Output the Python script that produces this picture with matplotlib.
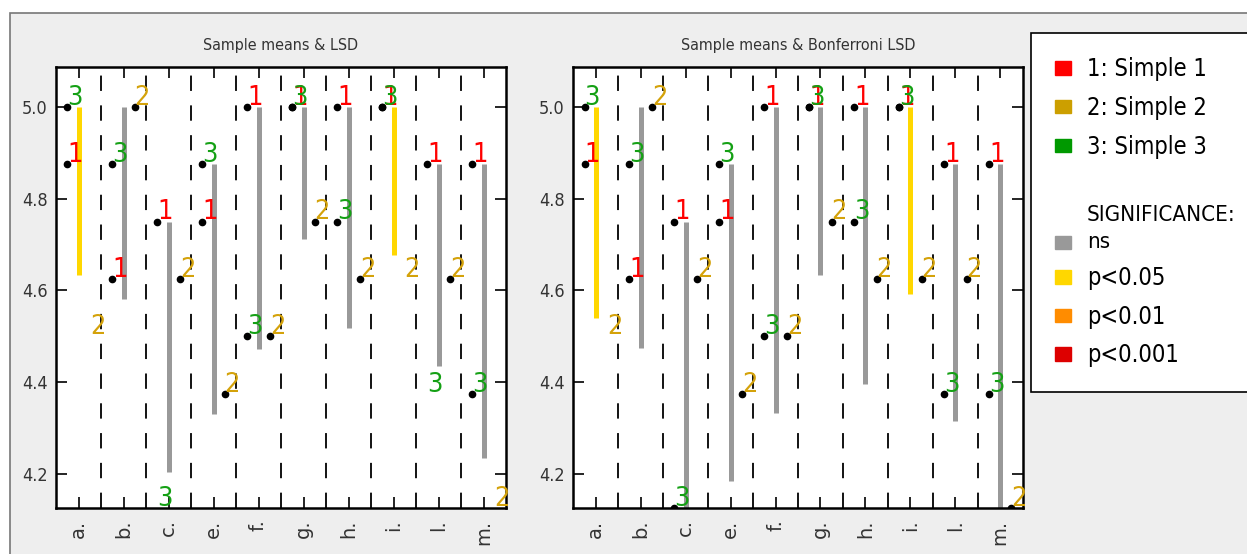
import matplotlib
matplotlib.use('Agg')
import matplotlib.pyplot as plt
from matplotlib import font_manager
from matplotlib.patches import Patch, Rectangle
from matplotlib.legend_handler import HandlerPatch

# sample means per product (samples 1 and 3 go left of the tick, 2 goes right)
categories = ['a.', 'b.', 'c.', 'e.', 'f.', 'g.', 'h.', 'i.', 'l.', 'm.']
mean_1 = [4.875, 4.625, 4.75, 4.75, 5.0, 5.0, 5.0, 5.0, 4.875, 4.875]
mean_2 = [4.5, 5.0, 4.625, 4.375, 4.5, 4.75, 4.625, 4.625, 4.625, 4.125]
mean_3 = [5.0, 4.875, 4.125, 4.875, 4.5, 5.0, 4.75, 5.0, 4.375, 4.375]

# lower end of the LSD bar (bar starts at the highest mean)
lsd_low = [4.634, 4.581, 4.205, 4.330, 4.473, 4.711, 4.518, 4.678, 4.435, 4.234]
bonf_low = [4.540, 4.475, 4.066, 4.185, 4.332, 4.633, 4.395, 4.591, 4.315, 4.070]
lsd_sig = ['p<0.05', 'ns', 'ns', 'ns', 'ns', 'ns', 'ns', 'p<0.05', 'ns', 'ns']
bonf_sig = ['p<0.05', 'ns', 'ns', 'ns', 'ns', 'ns', 'ns', 'p<0.05', 'ns', 'ns']

sample_names = ['1: Simple 1', '2: Simple 2', '3: Simple 3']
sample_colors = ['#ff0000', '#d4a20a', '#14a014']
legend_colors = ['#ff0000', '#cc9f00', '#009900']
sig_levels = ['ns', 'p<0.05', 'p<0.01', 'p<0.001']
sig_colors = {'ns': '#999999', 'p<0.05': '#ffd700', 'p<0.01': '#ff8c00', 'p<0.001': '#dd0000'}

names = {f.name for f in font_manager.fontManager.ttflist}
if 'Liberation Sans Narrow' in names:
    narrow = dict(family='Liberation Sans Narrow')
else:
    narrow = dict(family='DejaVu Sans', stretch='condensed')

W, H = 1247, 554
fig = plt.figure(figsize=(W / 100, H / 100), dpi=100, facecolor='white')
fig.add_artist(Rectangle((10 / W, -0.1), 1.0, 1.1 - 13 / H, transform=fig.transFigure,
                         facecolor='#eeeeee', edgecolor='#777777', lw=1.2, zorder=-10))


def draw_panel(ax, low, sig, title):
    means = [mean_1, mean_2, mean_3]
    offsets = [-0.25, 0.25, -0.25]
    for i in range(len(categories)):
        top = max(m[i] for m in means)
        ax.vlines(i, low[i], top, colors=sig_colors[sig[i]], lw=3.6, zorder=2)
        for s in range(3):
            x = i + offsets[s]
            y = means[s][i]
            if y >= low[i]:
                ax.plot(x, y, 'o', color='black', ms=4.5, zorder=4)
            ax.annotate(str(s + 1), (x, y), xytext=(0, 1.5), textcoords='offset points',
                        ha='left', va='baseline', color=sample_colors[s],
                        fontsize=19.5, zorder=5, **narrow)
    for i in range(len(categories) - 1):
        ax.axvline(i + 0.5, color='black', lw=1.3, linestyle=(0, (8.5, 8)), zorder=1)
    ax.set_xlim(-0.5, len(categories) - 0.5)
    ax.set_ylim(4.125, 5.0875)
    ax.set_xticks(range(len(categories)))
    ax.set_xticklabels(categories, rotation=90, fontsize=14)
    ax.set_yticks([4.2, 4.4, 4.6, 4.8, 5.0])
    ax.set_yticklabels(['4.2', '4.4', '4.6', '4.8', '5.0'], fontsize=13, **narrow)
    ax.tick_params(direction='in', top=True, right=True, length=8, width=1.2, colors='black',
                   labelcolor='#333333')
    ax.tick_params(axis='x', pad=8)
    ax.tick_params(axis='y', pad=6)
    for sp in ax.spines.values():
        sp.set_linewidth(1.8)
    ax.set_title(title, fontsize=11.5, pad=12, color='#333333', **narrow)


ax1 = fig.add_axes([56 / W, 1 - 508.3 / H, 450 / W, 441.6 / H])
ax2 = fig.add_axes([573.3 / W, 1 - 508.3 / H, 449.4 / W, 441.6 / H])
draw_panel(ax1, lsd_low, lsd_sig, 'Sample means & LSD')
draw_panel(ax2, bonf_low, bonf_sig, 'Sample means & Bonferroni LSD')


def lowered_patch(legend, orig_handle, xdescent, ydescent, width, height, fontsize):
    # put the "ns" swatch next to the second line of its two-line label
    return Rectangle((-xdescent, -ydescent - 0.62 * fontsize), width, height)


handles = [Patch(color=c) for c in legend_colors]
labels = list(sample_names)
handles.append(Patch(color='none'))
labels.append(' ')
for k, lev in enumerate(sig_levels):
    handles.append(Patch(color=sig_colors[lev]))
    labels.append('SIGNIFICANCE:\n' + lev if k == 0 else lev)

leg = fig.legend(handles, labels, loc='upper left', bbox_to_anchor=(1030.7 / W, 1 - 32.7 / H),
                 borderaxespad=0, prop=dict(family='DejaVu Sans', stretch='condensed', size=17),
                 frameon=True, fancybox=False, framealpha=1, edgecolor='black',
                 handlelength=0.65, handleheight=0.5, handletextpad=0.68,
                 labelspacing=0.62, borderpad=1.05,
                 handler_map={handles[4]: HandlerPatch(patch_func=lowered_patch)})
leg.get_frame().set_linewidth(1.2)
leg.get_texts()[3].set_fontsize(6)
leg.get_texts()[4].set_fontsize(16)
leg.get_texts()[4].set_linespacing(1.4)

fig.savefig('out.png', dpi=100)
